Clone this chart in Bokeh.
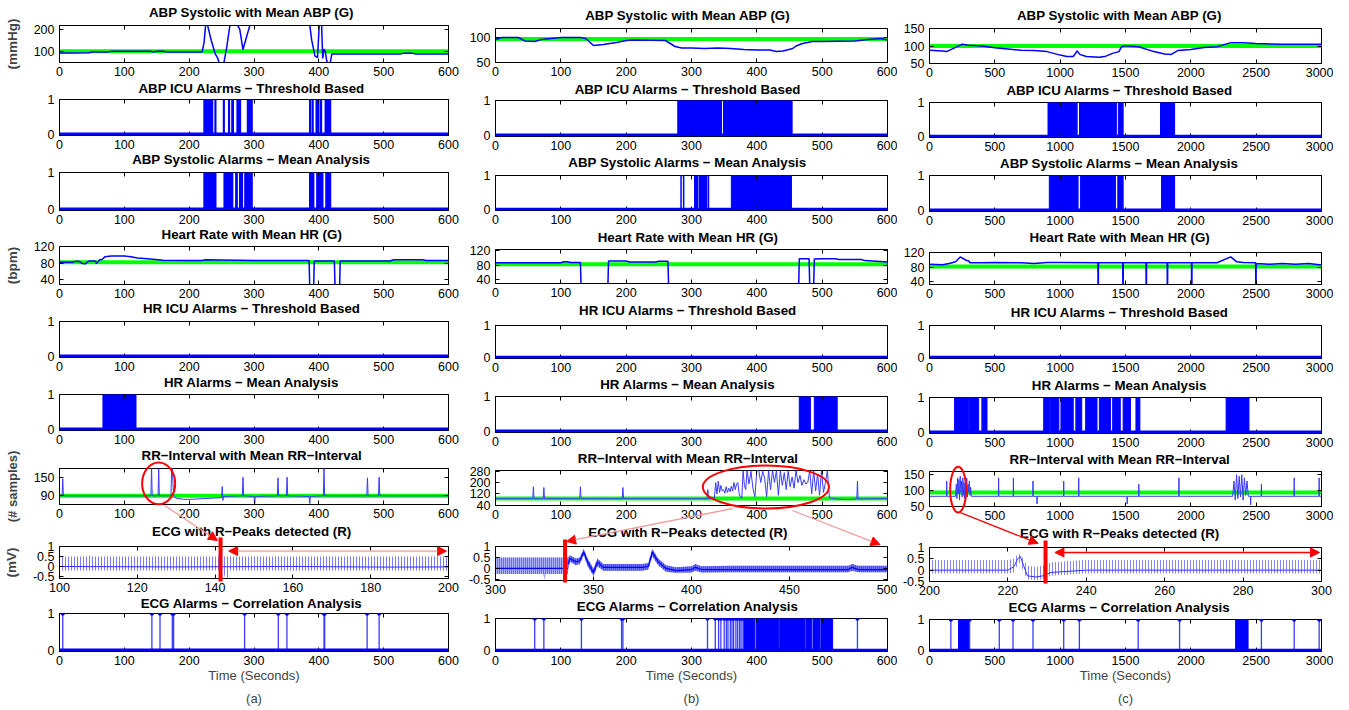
import math
from bokeh.plotting import figure
from bokeh.layouts import row, column
from bokeh.models import Range1d, FixedTicker, LinearAxis, Span, Arrow, NormalHead
from bokeh.core.properties import value
from bokeh.embed import file_html
from bokeh.resources import INLINE

# ---------------- texts ----------------
TITLES = ["ABP Systolic with Mean ABP (G)", "ABP ICU Alarms − Threshold Based",
          "ABP Systolic Alarms − Mean Analysis", "Heart Rate with Mean HR (G)",
          "HR ICU Alarms − Threshold Based", "HR Alarms − Mean Analysis",
          "RR−Interval with Mean RR−Interval", "ECG with R−Peaks detected (R)",
          "ECG Alarms − Correlation Analysis"]
YLABELS = ["(mmHg)", None, None, "(bpm)", None, None, "(# samples)", "(mV)", None]
XLABEL = "Time (Seconds)"
SUBLABELS = ["(a)", "(b)", "(c)"]

# ---------------- ticks ----------------
XT_600 = [0, 100, 200, 300, 400, 500, 600]
XT_3000 = [0, 500, 1000, 1500, 2000, 2500, 3000]
XT_ECG_A = [100, 120, 140, 160, 180, 200]
XT_ECG_B = [300, 350, 400, 450, 500]
XT_ECG_C = [200, 220, 240, 260, 280, 300]
YT_ALARM = [0, 1]
YT_HR = [40, 80, 120]
YT_ECG = [-0.5, 0, 0.5, 1]
YL_ECG = ["-0.5", "0", "0.5", "1"]
YT_ABP_A = [100, 200]
YT_ABP_B = [50, 100]
YT_ABP_C = [50, 100, 150]
YT_RR_A = [90, 150]
YT_RR_B = [40, 120, 200, 280]
YT_RR_C = [50, 100, 150]

# ================= column (a) =================
A_ABP_T = [0, 20, 45, 50, 75, 80, 140, 145, 150, 160, 165, 220, 223, 226, 229, 234, 240, 244, 247, 253,
           258, 264, 270, 278, 283, 289, 296, 385, 389, 394, 398, 401, 404, 406, 408, 410, 412, 414, 417, 420,
           500, 525, 530, 545, 550, 600]
A_ABP_V = [93, 93, 94, 97, 97, 100, 100, 97, 100, 100, 97, 97, 140, 240, 210, 150, 90, 70, 40, 40,
           120, 240, 240, 200, 108, 170, 240, 240, 150, 80, 72, 240, 240, 68, 110, 100, 60, 40, 40, 88,
           88, 88, 91, 91, 88, 88]
A_ABP_MEAN = 100
A_ABPICU_PULSES = [(223, 225), (227, 229), (231, 233), (235, 236), (240, 241), (253, 254), (261, 262),
                   (266, 268), (274, 275), (277, 279), (290, 291), (293, 295), (296, 297), (386, 387),
                   (390, 391), (396, 397), (399, 400), (403, 404), (410, 411), (413, 414), (416, 418)]
A_ABPMEAN_PULSES = [(223, 225), (227, 229), (231, 233), (235, 237), (239, 241), (254, 256), (258, 260),
                    (262, 264), (266, 267), (272, 274), (278, 280), (281, 282), (286, 288), (290, 291),
                    (292, 294), (295, 297), (386, 388), (390, 392), (397, 399), (401, 403), (405, 406),
                    (411, 413), (414, 416), (417, 418)]
A_HR_T = [0, 20, 25, 30, 35, 40, 45, 55, 57, 62, 65, 70, 80, 100, 110, 120, 140, 160, 200, 220,
          225, 300, 385, 386, 392, 393, 424, 425, 432, 433, 510, 515, 560, 565, 600]
A_HR_V = [82, 82, 84, 84, 79, 78, 85, 85, 79, 88, 88, 95, 97, 97, 95, 92, 90, 87, 86, 86,
          88, 86, 86, 20, 20, 85, 85, 20, 20, 85, 85, 88, 88, 86, 86]
A_HR_MEAN = 82
A_HRMEAN_BLOCKS = [(67, 118)]
A_RR_T = [0, 4, 5, 6, 20, 100, 141, 142, 143, 152, 153, 154, 172, 173, 174, 176, 180, 195, 250, 251,
          252, 253, 282, 283, 284, 300, 301, 302, 336, 337, 338, 350, 351, 352, 385, 386, 387, 407, 408, 409,
          474, 475, 476, 492, 493, 494, 600]
A_RR_V = [90, 90, 145, 90, 90, 90, 90, 180, 90, 90, 180, 90, 90, 180, 180, 90, 82, 78, 84, 120,
          75, 88, 90, 150, 90, 88, 60, 88, 90, 148, 90, 90, 150, 90, 88, 65, 88, 90, 180, 90,
          90, 148, 90, 90, 150, 90, 90]
A_RR_MEAN = 90
A_ECG_T = [100, 107.5, 108, 108.5, 142.0, 142.6, 143.2, 143.8, 200]
A_ECG_LO = [-0.2, -0.2, -0.2, -0.2, -0.2, -0.6, -0.6, -0.2, -0.2]
A_ECG_HI = [0.5, 0.5, 0.6, 0.5, 0.5, 0.5, 0.5, 0.5, 0.5]
A_ECG_BT = [100, 130, 160, 185, 200]
A_ECG_BV = [0.0, -0.02, 0.0, -0.03, -0.02]
A_ECGAL_SPIKES = [5, 142.5, 155, 174, 176, 285.5, 337.5, 350.8, 408, 409, 474.5, 493]
A_ELLIPSE = (156.5, 130, 51, 135)
A_RBAR = (142, -0.75, 1.45)
A_HARROW = (143.5, 199.5, 0.77)
A_DIAG = [((165.7, 58.8), (141.2, 1.3))]

# ================= column (b) =================
B_ABP_T = [0, 10, 35, 45, 60, 70, 100, 130, 138, 145, 150, 165, 185, 200, 210, 260, 265, 275, 285, 300,
           320, 340, 360, 380, 400, 420, 430, 440, 455, 460, 470, 485, 500, 550, 570, 590, 600]
B_ABP_V = [96, 100, 100, 93, 92, 96, 100, 100, 98, 90, 84, 86, 90, 94, 95, 94, 90, 82, 79, 79,
           78, 79, 78, 76, 75, 75, 72, 73, 78, 83, 88, 92, 92, 93, 96, 98, 95]
B_ABP_MEAN = 97
B_ABPICU_BLOCKS = [(279, 346), (349, 454)]
B_ABPMEAN_PULSES = [(284, 288), (305, 306), (307, 309), (312, 313), (315, 317), (319, 321), (323, 326)]
B_ABPMEAN_BLOCKS = [(361, 453)]
B_HR_T = [0, 100, 105, 110, 115, 130, 131, 172, 173, 175, 200, 205, 245, 250, 264, 265, 464, 465, 480, 481,
          487, 488, 500, 520, 525, 560, 565, 600]
B_HR_V = [86, 86, 89, 89, 87, 87, 20, 20, 91, 91, 91, 88, 88, 90, 90, 20, 20, 97, 97, 20,
          20, 96, 97, 97, 95, 95, 92, 88]
B_HR_MEAN = 82
B_HRMEAN_BLOCKS = [(465, 482), (488, 523)]
B_RR_T = [0, 57, 58, 59, 73, 74, 75, 129, 130, 131, 194, 195, 196, 300, 324, 325, 326,
          335, 337, 339, 341, 343, 345, 347, 349, 351, 353, 355, 357, 359, 361, 363, 365, 367, 369, 371,
          373, 375, 377, 379, 381, 383, 385, 388, 391, 394, 397, 400, 403, 406, 409, 412, 415, 418, 421,
          424, 427, 430, 433, 436, 439, 442, 445, 448, 451, 454, 457, 460, 463, 466, 469, 472, 475, 478,
          481, 484, 487, 490, 493, 496, 499, 502, 505, 508, 511, 514,
          520, 540, 553, 554, 555, 600]
B_RR_V = [86, 86, 170, 86, 86, 165, 86, 86, 170, 86, 86, 165, 86, 86, 86, 150, 86,
          90, 200, 120, 210, 130, 180, 140, 150, 125, 170, 130, 160, 135, 175, 140, 200, 150, 190, 200,
          120, 95, 90, 285, 180, 150, 285, 190, 280, 160, 100, 285, 285, 200, 280, 230, 100, 285, 150,
          285, 200, 285, 110, 285, 180, 270, 150, 280, 170, 240, 160, 285, 200, 250, 180, 220, 190, 200,
          285, 120, 285, 140, 260, 110, 285, 130, 200, 285, 95, 88,
          84, 80, 84, 210, 84, 87]
B_RR_MEAN = 88
B_ECG1_T = [300, 324.5, 325, 325.5, 337]
B_ECG1_LO = [-0.25, -0.25, -0.6, -0.25, -0.25]
B_ECG1_HI = [0.5, 0.5, 0.5, 0.5, 0.5]
B_ECG1_BV = [0.0, 0.0, 0.0, 0.0, 0.0]
B_ECG2_T = [337, 338, 341, 343, 345, 347, 350, 352, 355, 360, 375, 378, 380, 383, 387, 392, 400, 402,
            405, 420, 480, 482, 485, 500]
B_ECG2_MID = [0.2, 0.45, 0.3, 0.35, 0.75, 0.3, -0.2, 0.3, 0.05, 0.05, 0.05, 0.1, 0.75, 0.3, 0.0, -0.1,
              -0.05, 0.05, -0.05, -0.05, -0.05, 0.05, -0.05, -0.05]
B_ECG2_HI = [0.5, 0.6, 0.45, 0.5, 0.9, 0.45, 0.0, 0.45, 0.2, 0.2, 0.2, 0.25, 0.9, 0.45, 0.15, 0.05,
             0.1, 0.2, 0.1, 0.12, 0.12, 0.2, 0.12, 0.12]
B_ECG2_LO = [-0.1, 0.3, 0.15, 0.2, 0.6, 0.1, -0.35, 0.1, -0.1, -0.1, -0.1, -0.05, 0.55, 0.15, -0.15,
             -0.2, -0.18, -0.1, -0.18, -0.17, -0.17, -0.1, -0.17, -0.17]
B_ECGAL_SPIKES = [60, 74, 131.5, 193, 195, 324.5, 336.4, 341.5, 345, 350, 353.3, 355.8, 359.4, 362,
                  364.5, 368, 370.7, 373.7, 375.8, 378.8, 554]
B_ECGAL_BLOCKS = [(380, 397), (399, 433), (435, 474), (476, 484), (486, 497), (499, 516)]
B_ELLIPSE = (420, 168, 194, 303)
B_RBAR = (337, -0.64, 1.32)
B_DIAG = [((368.9, 16.8), (337.8, 1.23)), ((460.7, 2.7), (498.5, 1.09))]

# ================= column (c) =================
C_ABP_T = [0, 100, 130, 200, 250, 300, 400, 500, 700, 800, 900, 1000, 1050, 1100, 1120, 1130, 1150,
           1200, 1300, 1350, 1400, 1450, 1470, 1500, 1600, 1700, 1800, 1850, 1900, 2000, 2100, 2200,
           2300, 2400, 2500, 2700, 3000]
C_ABP_V = [88, 86, 84, 96, 105, 102, 100, 95, 88, 87, 84, 74, 70, 70, 80, 86, 76,
           70, 68, 71, 79, 84, 98, 101, 98, 86, 77, 76, 87, 90, 96, 98,
           109, 109, 107, 105, 105]
C_ABP_MEAN = 100
C_ABPICU_BLOCKS = [(907, 1130), (1148, 1430), (1445, 1482), (1768, 1876)]
C_ABPMEAN_BLOCKS = [(917, 1137), (1155, 1423), (1441, 1482), (1776, 1876)]
C_HR_T = [0, 100, 150, 200, 235, 280, 300, 310, 400, 500, 700, 800, 900, 1000, 1289, 1290, 1292, 1293,
          1479, 1480, 1482, 1483, 1657, 1658, 1660, 1661, 1819, 1820, 1822, 1823, 2005, 2006, 2008, 2009,
          2200, 2305, 2350, 2400, 2496, 2497, 2499, 2500, 2600, 2700, 2800, 2900, 3000]
C_HR_V = [88, 87, 90, 95, 108, 99, 97, 92, 92, 93, 92, 90, 93, 93, 92, 20, 20, 92,
          92, 20, 20, 92, 92, 20, 20, 92, 92, 20, 20, 92, 92, 20, 20, 92,
          92, 108, 95, 93, 92, 20, 20, 90, 88, 90, 88, 90, 86]
C_HR_MEAN = 82
C_HRMEAN_BLOCKS = [(192, 300), (305, 376), (401, 411), (415, 440), (874, 920), (925, 990), (1006, 1100),
                   (1120, 1165), (1195, 1282), (1300, 1385), (1402, 1460), (1482, 1538), (1580, 1610),
                   (2270, 2445)]
C_RR_T = [0, 130, 132, 134, 200, 205, 210, 215, 220, 225, 230, 235, 240, 245, 250, 255, 260, 265, 270,
          275, 280, 285, 290, 295, 300, 305, 310, 315, 320, 400, 527, 529, 531, 640, 642, 644, 790, 792,
          794, 821, 823, 825, 1025, 1027, 1029, 1140, 1142, 1144, 1511, 1513, 1515, 1600, 1602, 1604,
          1907, 1909, 1911, 2320, 2330, 2340, 2350, 2360, 2370, 2380, 2390, 2400, 2410, 2420, 2430, 2440,
          2456, 2458, 2460, 2538, 2540, 2542, 2789, 2791, 2793, 2980, 2982, 2984, 3000]
C_RR_V = [82, 82, 130, 82, 82, 120, 75, 140, 90, 135, 70, 145, 95, 130, 80, 140, 85, 125, 75,
          135, 90, 140, 80, 120, 95, 130, 85, 110, 82, 82, 82, 140, 82, 82, 140, 82, 82, 130,
          82, 82, 58, 82, 82, 130, 82, 82, 140, 82, 82, 58, 82, 82, 120, 82,
          82, 140, 82, 82, 130, 70, 150, 75, 145, 80, 150, 70, 140, 85, 130, 82,
          82, 55, 82, 82, 120, 82, 82, 140, 82, 82, 140, 82, 82]
C_RR_MEAN = 94
C_ECG_T = [200, 220, 221.5, 222.5, 223.2, 224, 225, 227, 229, 231, 240, 300]
C_ECG_MID = [0.0, 0.0, 0.15, 0.5, 0.6, 0.2, -0.25, -0.3, -0.25, -0.1, 0.0, 0.0]
C_ECG_HI = [0.45, 0.45, 0.5, 0.7, 0.72, 0.45, 0.2, 0.15, 0.2, 0.35, 0.45, 0.45]
C_ECG_LO = [-0.15, -0.15, -0.1, 0.25, 0.35, -0.1, -0.4, -0.45, -0.4, -0.25, -0.15, -0.15]
C_ECGAL_SPIKES = [163.5, 307, 534, 639, 792, 1027, 1147, 1597, 1914, 2540, 2791, 2982]
C_ECGAL_BLOCKS = [(222, 299), (2343, 2438)]
C_ELLIPSE = (258, 103, 123, 144)
C_RBAR = (231, -0.59, 1.31)
C_HARROW = (232, 299.5, 0.78)
C_DIAG = [((275, 31), (229.1, 1.18))]

# ---------------- styling / layout ----------------
FONT = "Liberation Sans"
BLUE = "#0000ff"
LBLUE = "#3a3aff"
GREEN = "#00ff00"
RED = "#ff0000"
PINK = "#f49a9a"

COL_LB = [57, 35, 32]
COL_RB = [12, 10, 12]
COL_FW = [391, 392, 392]
FRAME_TOP = [[25, 99, 172, 246, 321, 394, 468, 546, 613],
             [28, 100, 175, 249, 325, 396, 470, 546, 618],
             [28, 102, 175, 252, 325, 397, 471, 547, 619]]
FRAME_BOT = [[62, 135, 210, 284, 357, 430, 504, 578, 653],
             [62, 136, 210, 283, 358, 432, 505, 580, 653],
             [63, 137, 211, 284, 358, 433, 506, 581, 654]]
TITLE_MID = [[12, 88, 159, 234, 308, 382, 455, 531, 603],
             [15, 89, 162, 237, 310, 384, 458, 532, 606],
             [15, 90, 163, 237, 312, 385, 459, 533, 607]]
END_Y = 708
LABEL_SPACE = 20
OVL_W, OVL_H = 1340, 708


def bounds(c):
    return [0] + [FRAME_BOT[c][k - 1] + LABEL_SPACE for k in range(1, 9)] + [END_Y]


def frame_left(c):
    x = 0
    for i in range(c):
        x += COL_LB[i] + COL_FW[i] + COL_RB[i]
    return x + COL_LB[c]


def to_px(c, r, xr, yr, x, y):
    X = frame_left(c) + (x - xr[0]) / (xr[1] - xr[0]) * COL_FW[c]
    ft, fb = FRAME_TOP[c][r], FRAME_BOT[c][r]
    Y = ft + (yr[1] - y) / (yr[1] - yr[0]) * (fb - ft)
    return X, Y


def style_axis(ax, size="12.5px", standoff=4):
    ax.major_tick_in = 4
    ax.major_tick_out = 0
    ax.minor_tick_in = 0
    ax.minor_tick_out = 0
    ax.major_label_standoff = standoff
    ax.major_label_text_font = FONT
    ax.major_label_text_font_size = size
    ax.major_label_text_color = "black"
    ax.axis_line_color = "black"


def hide_labels(ax):
    ax.major_label_text_font_size = "0px"
    ax.major_label_text_alpha = 0
    ax.major_label_text_color = None
    ax.major_label_standoff = 0


def panel(c, r, xr, yr, xt, yt, ylabels=None):
    B = bounds(c)
    w = COL_LB[c] + COL_FW[c] + COL_RB[c]
    h = B[r + 1] - B[r]
    p = figure(width=w, height=h, x_range=Range1d(*xr), y_range=Range1d(*yr),
               output_backend="svg", toolbar_location=None,
               min_border_left=COL_LB[c], min_border_right=COL_RB[c],
               min_border_top=FRAME_TOP[c][r] - B[r], min_border_bottom=B[r + 1] - FRAME_BOT[c][r])
    p.grid.visible = False
    p.outline_line_color = "black"
    p.outline_line_alpha = 1
    p.xaxis.ticker = FixedTicker(ticks=xt)
    p.yaxis.ticker = FixedTicker(ticks=yt)
    if ylabels:
        p.yaxis.major_label_overrides = dict(zip(yt, ylabels))
    for ax in p.xaxis:
        style_axis(ax, standoff=4)
    for ax in p.yaxis:
        style_axis(ax, standoff=5)
    if c == 0 and YLABELS[r]:
        p.yaxis.axis_label = YLABELS[r]
        p.yaxis.axis_label_text_font = FONT
        p.yaxis.axis_label_text_font_size = "13px" if r == 6 else "13.5px"
        p.yaxis.axis_label_text_font_style = "bold"
        p.yaxis.axis_label_standoff = 11
    if r == 8:
        p.xaxis.axis_label = XLABEL
        p.xaxis.axis_label_text_font = FONT
        p.xaxis.axis_label_text_font_size = "13px"
        p.xaxis.axis_label_text_font_style = "normal"
        p.xaxis.axis_label_standoff = 0
    for loc, ticks in (("above", xt), ("right", yt)):
        ax = LinearAxis(ticker=FixedTicker(ticks=ticks))
        style_axis(ax)
        hide_labels(ax)
        ax.axis_line_color = None
        p.add_layout(ax, loc)
    if r == 8:
        sub = LinearAxis(ticker=FixedTicker(ticks=[]), axis_label=SUBLABELS[c])
        style_axis(sub)
        hide_labels(sub)
        sub.major_tick_in = 0
        sub.axis_line_color = None
        sub.axis_label_text_font = FONT
        sub.axis_label_text_font_size = "13px"
        sub.axis_label_text_font_style = "normal"
        sub.axis_label_standoff = 5
        p.add_layout(sub, "below")
    return p


def draw_signal(p, t, v, mean, width=1.5, color=BLUE):
    p.add_layout(Span(location=mean, dimension="width", line_color=GREEN, line_width=4, level="underlay"))
    p.line(t, v, line_color=color, line_width=width)


def draw_alarm(p, blocks=(), pulses=(), spikes=(), dots=False):
    if blocks:
        p.quad(left=[b[0] for b in blocks], right=[b[1] for b in blocks], bottom=0, top=1,
               fill_color=BLUE, line_color=BLUE, line_width=1)
    if pulses:
        xs, ys = [], []
        for s, e in pulses:
            xs += [s, s, e, e]
            ys += [0, 1, 1, 0]
        p.line(xs, ys, line_color=BLUE, line_width=1.5)
    if spikes:
        p.segment(x0=spikes, y0=0, x1=spikes, y1=1, line_color=LBLUE, line_width=1.3)
        if dots:
            p.scatter(spikes, [1] * len(spikes), size=3.5, color=BLUE)
    p.add_layout(Span(location=0, dimension="width", line_color=BLUE, line_width=3))


def draw_ecg(p, t, lo, hi, bt, bv, scale, color, fill_alpha=0.0, base_color=BLUE, base_width=1.2):
    p.varea(x=t, y1=lo, y2=hi, fill_color=BLUE, fill_alpha=fill_alpha, hatch_pattern="vertical_line",
            hatch_scale=scale, hatch_color=color, hatch_weight=1, hatch_alpha=1)
    p.line(bt, bv, line_color=base_color, line_width=base_width)


def head(color):
    return NormalHead(size=9, fill_color=color, line_color=color)


def h_arrow(p, ha, line_color, head_color):
    x0, x1, y = ha
    p.add_layout(Arrow(x_start=x0, y_start=y, x_end=x1, y_end=y, start=head(head_color),
                       end=head(head_color), line_color=line_color, line_width=1.3))


# transparent overlay in page-pixel coordinates: panel titles and the red call-outs crossing panels
ov = figure(width=OVL_W, height=OVL_H, x_range=Range1d(0, OVL_W), y_range=Range1d(OVL_H, 0),
            x_axis_type=None, y_axis_type=None, toolbar_location=None, output_backend="svg",
            min_border=0, min_border_left=0, min_border_right=0, min_border_top=0, min_border_bottom=0,
            outline_line_color=None, background_fill_alpha=0, border_fill_alpha=0,
            styles={"position": "absolute", "left": "0px", "top": "0px", "z-index": "10",
                    "pointer-events": "none"})
ov.grid.visible = False

title_x, title_y, title_t = [], [], []
for c in range(3):
    for r in range(9):
        title_x.append(frame_left(c) + COL_FW[c] / 2)
        title_y.append(TITLE_MID[c][r])
        title_t.append(TITLES[r])
ov.text(x=title_x, y=title_y, text=title_t, text_align="center", text_baseline="middle",
        text_font=value(FONT), text_font_style="bold", text_font_size="13.3px", text_color="black")


def callouts(c, rr_xr, rr_yr, ecg_xr, ecg_yr, ell, bar, diags, diag_color):
    cx, cy, w, h = ell
    X, Y = to_px(c, 6, rr_xr, rr_yr, cx, cy)
    pw = w / (rr_xr[1] - rr_xr[0]) * COL_FW[c]
    ph = h / (rr_yr[1] - rr_yr[0]) * (FRAME_BOT[c][6] - FRAME_TOP[c][6])
    ov.ellipse(x=[X], y=[Y], width=[pw], height=[ph], fill_color=None, line_color=RED, line_width=2)
    bx, by0, by1 = bar
    X0, Y0 = to_px(c, 7, ecg_xr, ecg_yr, bx, by0)
    X1, Y1 = to_px(c, 7, ecg_xr, ecg_yr, bx, by1)
    ov.segment(x0=[X0], y0=[Y0], x1=[X1], y1=[Y1], line_color=RED, line_width=4)
    for s, e in diags:
        sX, sY = to_px(c, 6, rr_xr, rr_yr, *s)
        eX, eY = to_px(c, 7, ecg_xr, ecg_yr, *e)
        ov.add_layout(Arrow(x_start=sX, y_start=sY, x_end=eX, y_end=eY, start=None, end=head(RED),
                            line_color=diag_color, line_width=1.3))


ALARM_YR = (-0.04, 1.0)


def build(c, d):
    xr = d["xr"]
    figs = []
    p = panel(c, 0, xr, d["abp_yr"], d["xt"], d["abp_yt"])
    draw_signal(p, d["abp_t"], d["abp_v"], d["abp_mean"])
    figs.append(p)
    p = panel(c, 1, xr, ALARM_YR, d["xt"], YT_ALARM)
    draw_alarm(p, blocks=d.get("icu_blocks", ()), pulses=d.get("icu_pulses", ()))
    figs.append(p)
    p = panel(c, 2, xr, ALARM_YR, d["xt"], YT_ALARM)
    draw_alarm(p, blocks=d.get("mean_blocks", ()), pulses=d.get("mean_pulses", ()))
    figs.append(p)
    p = panel(c, 3, xr, d["hr_yr"], d["xt"], YT_HR)
    draw_signal(p, d["hr_t"], d["hr_v"], d["hr_mean"])
    figs.append(p)
    p = panel(c, 4, xr, ALARM_YR, d["xt"], YT_ALARM)
    draw_alarm(p)
    figs.append(p)
    p = panel(c, 5, xr, ALARM_YR, d["xt"], YT_ALARM)
    draw_alarm(p, blocks=d["hrmean_blocks"])
    figs.append(p)
    prr = panel(c, 6, xr, d["rr_yr"], d["xt"], d["rr_yt"])
    draw_signal(prr, d["rr_t"], d["rr_v"], d["rr_mean"], width=1.0, color=LBLUE)
    figs.append(prr)
    pecg = panel(c, 7, d["ecg_xr"], d["ecg_yr"], d["ecg_xt"], YT_ECG, YL_ECG)
    d["draw_ecg"](pecg)
    if d.get("harrow"):
        h_arrow(pecg, d["harrow"], d["harrow_color"], RED)
    figs.append(pecg)
    callouts(c, xr, d["rr_yr"], d["ecg_xr"], d["ecg_yr"], d["ellipse"], d["rbar"], d["diag"], d["diag_color"])
    p = panel(c, 8, xr, ALARM_YR, d["xt"], YT_ALARM)
    draw_alarm(p, blocks=d.get("ecgal_blocks", ()), spikes=d["ecgal_spikes"], dots=True)
    figs.append(p)
    return column(*figs)


col_a = build(0, dict(
    xr=(0, 600), xt=XT_600,
    abp_yr=(50, 216), abp_yt=YT_ABP_A, abp_t=A_ABP_T, abp_v=A_ABP_V, abp_mean=A_ABP_MEAN,
    icu_pulses=A_ABPICU_PULSES, mean_pulses=A_ABPMEAN_PULSES,
    hr_yr=(28, 120), hr_t=A_HR_T, hr_v=A_HR_V, hr_mean=A_HR_MEAN,
    hrmean_blocks=A_HRMEAN_BLOCKS,
    rr_yr=(62, 178), rr_yt=YT_RR_A, rr_t=A_RR_T, rr_v=A_RR_V, rr_mean=A_RR_MEAN, ellipse=A_ELLIPSE,
    ecg_xr=(100, 200), ecg_xt=XT_ECG_A, ecg_yr=(-0.6, 1.0),
    draw_ecg=lambda p: draw_ecg(p, A_ECG_T, A_ECG_LO, A_ECG_HI, A_ECG_BT, A_ECG_BV, 3, "#7a7aff",
                                base_color="#3030ff", base_width=1),
    rbar=A_RBAR, harrow=A_HARROW, harrow_color=PINK, diag=A_DIAG, diag_color=PINK,
    ecgal_spikes=A_ECGAL_SPIKES))


def draw_ecg_b(p):
    draw_ecg(p, B_ECG1_T, B_ECG1_LO, B_ECG1_HI, B_ECG1_T, B_ECG1_BV, 2, "#1a1aff", fill_alpha=0.3)
    draw_ecg(p, B_ECG2_T, B_ECG2_LO, B_ECG2_HI, B_ECG2_T, B_ECG2_MID, 2, "#2020ff", fill_alpha=0.55)


col_b = build(1, dict(
    xr=(0, 600), xt=XT_600,
    abp_yr=(50, 118), abp_yt=YT_ABP_B, abp_t=B_ABP_T, abp_v=B_ABP_V, abp_mean=B_ABP_MEAN,
    icu_blocks=B_ABPICU_BLOCKS, mean_blocks=B_ABPMEAN_BLOCKS, mean_pulses=B_ABPMEAN_PULSES,
    hr_yr=(30, 122), hr_t=B_HR_T, hr_v=B_HR_V, hr_mean=B_HR_MEAN,
    hrmean_blocks=B_HRMEAN_BLOCKS,
    rr_yr=(38, 285), rr_yt=YT_RR_B, rr_t=B_RR_T, rr_v=B_RR_V, rr_mean=B_RR_MEAN, ellipse=B_ELLIPSE,
    ecg_xr=(300, 500), ecg_xt=XT_ECG_B, ecg_yr=(-0.55, 1.0), draw_ecg=draw_ecg_b,
    rbar=B_RBAR, diag=B_DIAG, diag_color=PINK,
    ecgal_spikes=B_ECGAL_SPIKES, ecgal_blocks=B_ECGAL_BLOCKS))

col_c = build(2, dict(
    xr=(0, 3000), xt=XT_3000,
    abp_yr=(50, 150), abp_yt=YT_ABP_C, abp_t=C_ABP_T, abp_v=C_ABP_V, abp_mean=C_ABP_MEAN,
    icu_blocks=C_ABPICU_BLOCKS, mean_blocks=C_ABPMEAN_BLOCKS,
    hr_yr=(33, 120), hr_t=C_HR_T, hr_v=C_HR_V, hr_mean=C_HR_MEAN,
    hrmean_blocks=C_HRMEAN_BLOCKS,
    rr_yr=(50, 160), rr_yt=YT_RR_C, rr_t=C_RR_T, rr_v=C_RR_V, rr_mean=C_RR_MEAN, ellipse=C_ELLIPSE,
    ecg_xr=(200, 300), ecg_xt=XT_ECG_C, ecg_yr=(-0.5, 1.0),
    draw_ecg=lambda p: draw_ecg(p, C_ECG_T, C_ECG_LO, C_ECG_HI, C_ECG_T, C_ECG_MID, 3, "#8585ff",
                                base_color="#3030ff", base_width=1),
    rbar=C_RBAR, harrow=C_HARROW, harrow_color=RED, diag=C_DIAG, diag_color=RED,
    ecgal_spikes=C_ECGAL_SPIKES, ecgal_blocks=C_ECGAL_BLOCKS))

layout = column(row(col_a, col_b, col_c), ov)
open("out.html", "w").write(file_html(layout, INLINE))
